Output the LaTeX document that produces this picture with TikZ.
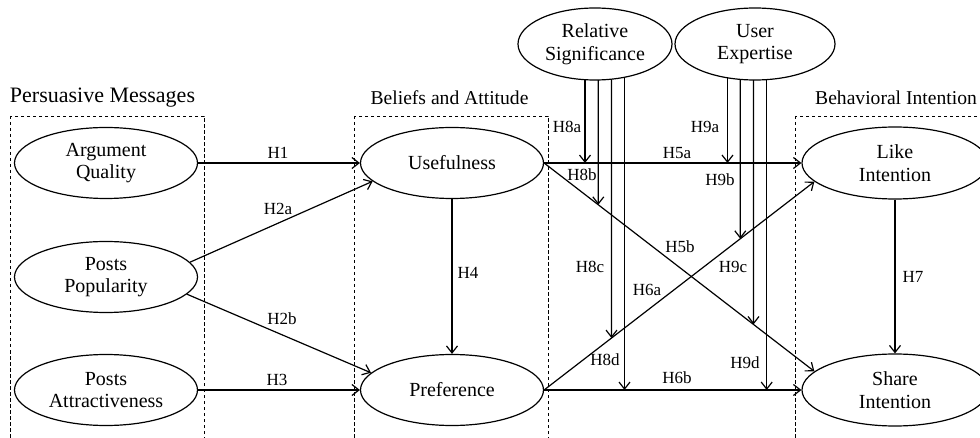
\documentclass[tikz,border=0pt]{standalone}
\usepackage{fontspec}
\setmainfont{Liberation Serif}
\usetikzlibrary{shapes.geometric,arrows.meta,intersections}
\pgfdeclarelayer{background}
\pgfsetlayers{background,main}
\begin{document}
\begin{tikzpicture}[x=1pt,y=-1pt,
  var/.style={ellipse,draw,line width=1.2pt,fill=white,inner sep=0pt,
    minimum width=183pt,minimum height=71pt,align=center,
    font=\fontsize{20}{22.5}\selectfont},
  topvar/.style={var,minimum width=154pt,minimum height=72pt},
  grp/.style={draw,line width=0.8pt,dash pattern=on 3.5pt off 2.5pt},
  ttl/.style={font=\fontsize{19.6}{22}\selectfont,inner sep=0pt},
  hyp/.style={font=\fontsize{17}{19}\selectfont,inner sep=0pt},
  arr/.style={line width=1.2pt,-{Straight Barb[length=7pt,width=11pt]}},
]
\useasboundingbox (0,0) rectangle (980,438);
\clip (0,0) rectangle (980,438);

% group boxes
\draw[grp] (10,116) rectangle (204,460);
\draw[grp] (354,116) rectangle (548,460);
\draw[grp] (795,116) rectangle (992,460);

% titles
\node[ttl,font=\fontsize{22}{24}\selectfont] (t1) at (102.5,98) {Persuasive Messages};
\node[ttl] (t2) at (449.5,98) {Beliefs and Attitude};
\node[ttl] (t3) at (896,98) {Behavioral Intention};

% constructs
\node[var] (AQ) at (106,163) {Argument\\Quality};
\node[var] (PP) at (106,277) {Posts\\Popularity};
\node[var] (PA) at (106,390) {Posts\\Attractiveness};
\node[var] (U) at (452,163) {Usefulness};
\node[var] (P) at (452,390) {Preference};
\node[var,minimum width=186pt,minimum height=72pt] (L) at (895,163) {Like\\Intention};
\node[var,minimum width=186pt,minimum height=72pt] (S) at (895,390) {Share\\Intention};
\node[topvar] (RS) at (595,44) {Relative\\Significance};
\node[topvar,minimum width=160pt] (UE) at (755,44) {User\\Expertise};

% main paths
\draw[arr] (AQ.east) -- (U.west);
\draw[arr] (PP.10) -- (U.193);
\draw[arr] (PP.-12) -- (P.168);
\draw[arr] (PA.east) -- (P.west);
\draw[arr] (U.south) -- (P.north);
\draw[arr] (U.east) -- (L.west);
\draw[arr,name path=h5b] (U.east) -- (S.167);
\draw[arr,name path=h6a] (P.east) -- (L.193);
\draw[arr] (P.east) -- (S.west);
\draw[arr] (L.south) -- (S.north);

% moderator columns
\coordinate (x8a) at (585,0);
\coordinate (x8b) at (598.3,0);
\coordinate (x8c) at (611.5,0);
\coordinate (x8d) at (624.5,0);
\coordinate (x9a) at (727.5,0);
\coordinate (x9b) at (740.3,0);
\coordinate (x9c) at (753.5,0);
\coordinate (x9d) at (766.7,0);
\path[name path=v8b] (x8b) -- ++(0,438);
\path[name path=v8c] (x8c) -- ++(0,438);
\path[name path=v9b] (x9b) -- ++(0,438);
\path[name path=v9c] (x9c) -- ++(0,438);
\path[name intersections={of=h5b and v8b,by=e8b}];
\path[name intersections={of=h6a and v8c,by=e8c}];
\path[name intersections={of=h6a and v9b,by=e9b}];
\path[name intersections={of=h5b and v9c,by=e9c}];

\begin{pgfonlayer}{background}
\draw[arr] (x8a |- RS.center) -- (x8a |- U.east);
\draw[arr] (x8b |- RS.center) -- (e8b);
\draw[arr] (x8c |- RS.center) -- (e8c);
\draw[arr] (x8d |- RS.center) -- (x8d |- P.east);
\draw[arr] (x9a |- UE.center) -- (x9a |- U.east);
\draw[arr] (x9b |- UE.center) -- (e9b);
\draw[arr] (x9c |- UE.center) -- (e9c);
\draw[arr] (x9d |- UE.center) -- (x9d |- P.east);
\end{pgfonlayer}

% hypothesis labels
\node[hyp] (lH1) at (278,153) {H1};
\node[hyp] (lH2a) at (278,209) {H2a};
\node[hyp] (lH2b) at (282,319) {H2b};
\node[hyp] (lH3) at (277,380) {H3};
\node[hyp] (lH4) at (468,273) {H4};
\node[hyp] (lH5a) at (677,153) {H5a};
\node[hyp] (lH5b) at (680,247) {H5b};
\node[hyp] (lH6a) at (647,290) {H6a};
\node[hyp] (lH6b) at (677,378) {H6b};
\node[hyp] (lH7) at (913,277) {H7};
\node[hyp] (lH8a) at (567,127) {H8a};
\node[hyp] (lH8b) at (582,175) {H8b};
\node[hyp] (lH8c) at (590,267) {H8c};
\node[hyp] (lH8d) at (605,360) {H8d};
\node[hyp] (lH9a) at (705,127) {H9a};
\node[hyp] (lH9b) at (720,180) {H9b};
\node[hyp] (lH9c) at (733,267) {H9c};
\node[hyp] (lH9d) at (745,363) {H9d};
\end{tikzpicture}
\end{document}
